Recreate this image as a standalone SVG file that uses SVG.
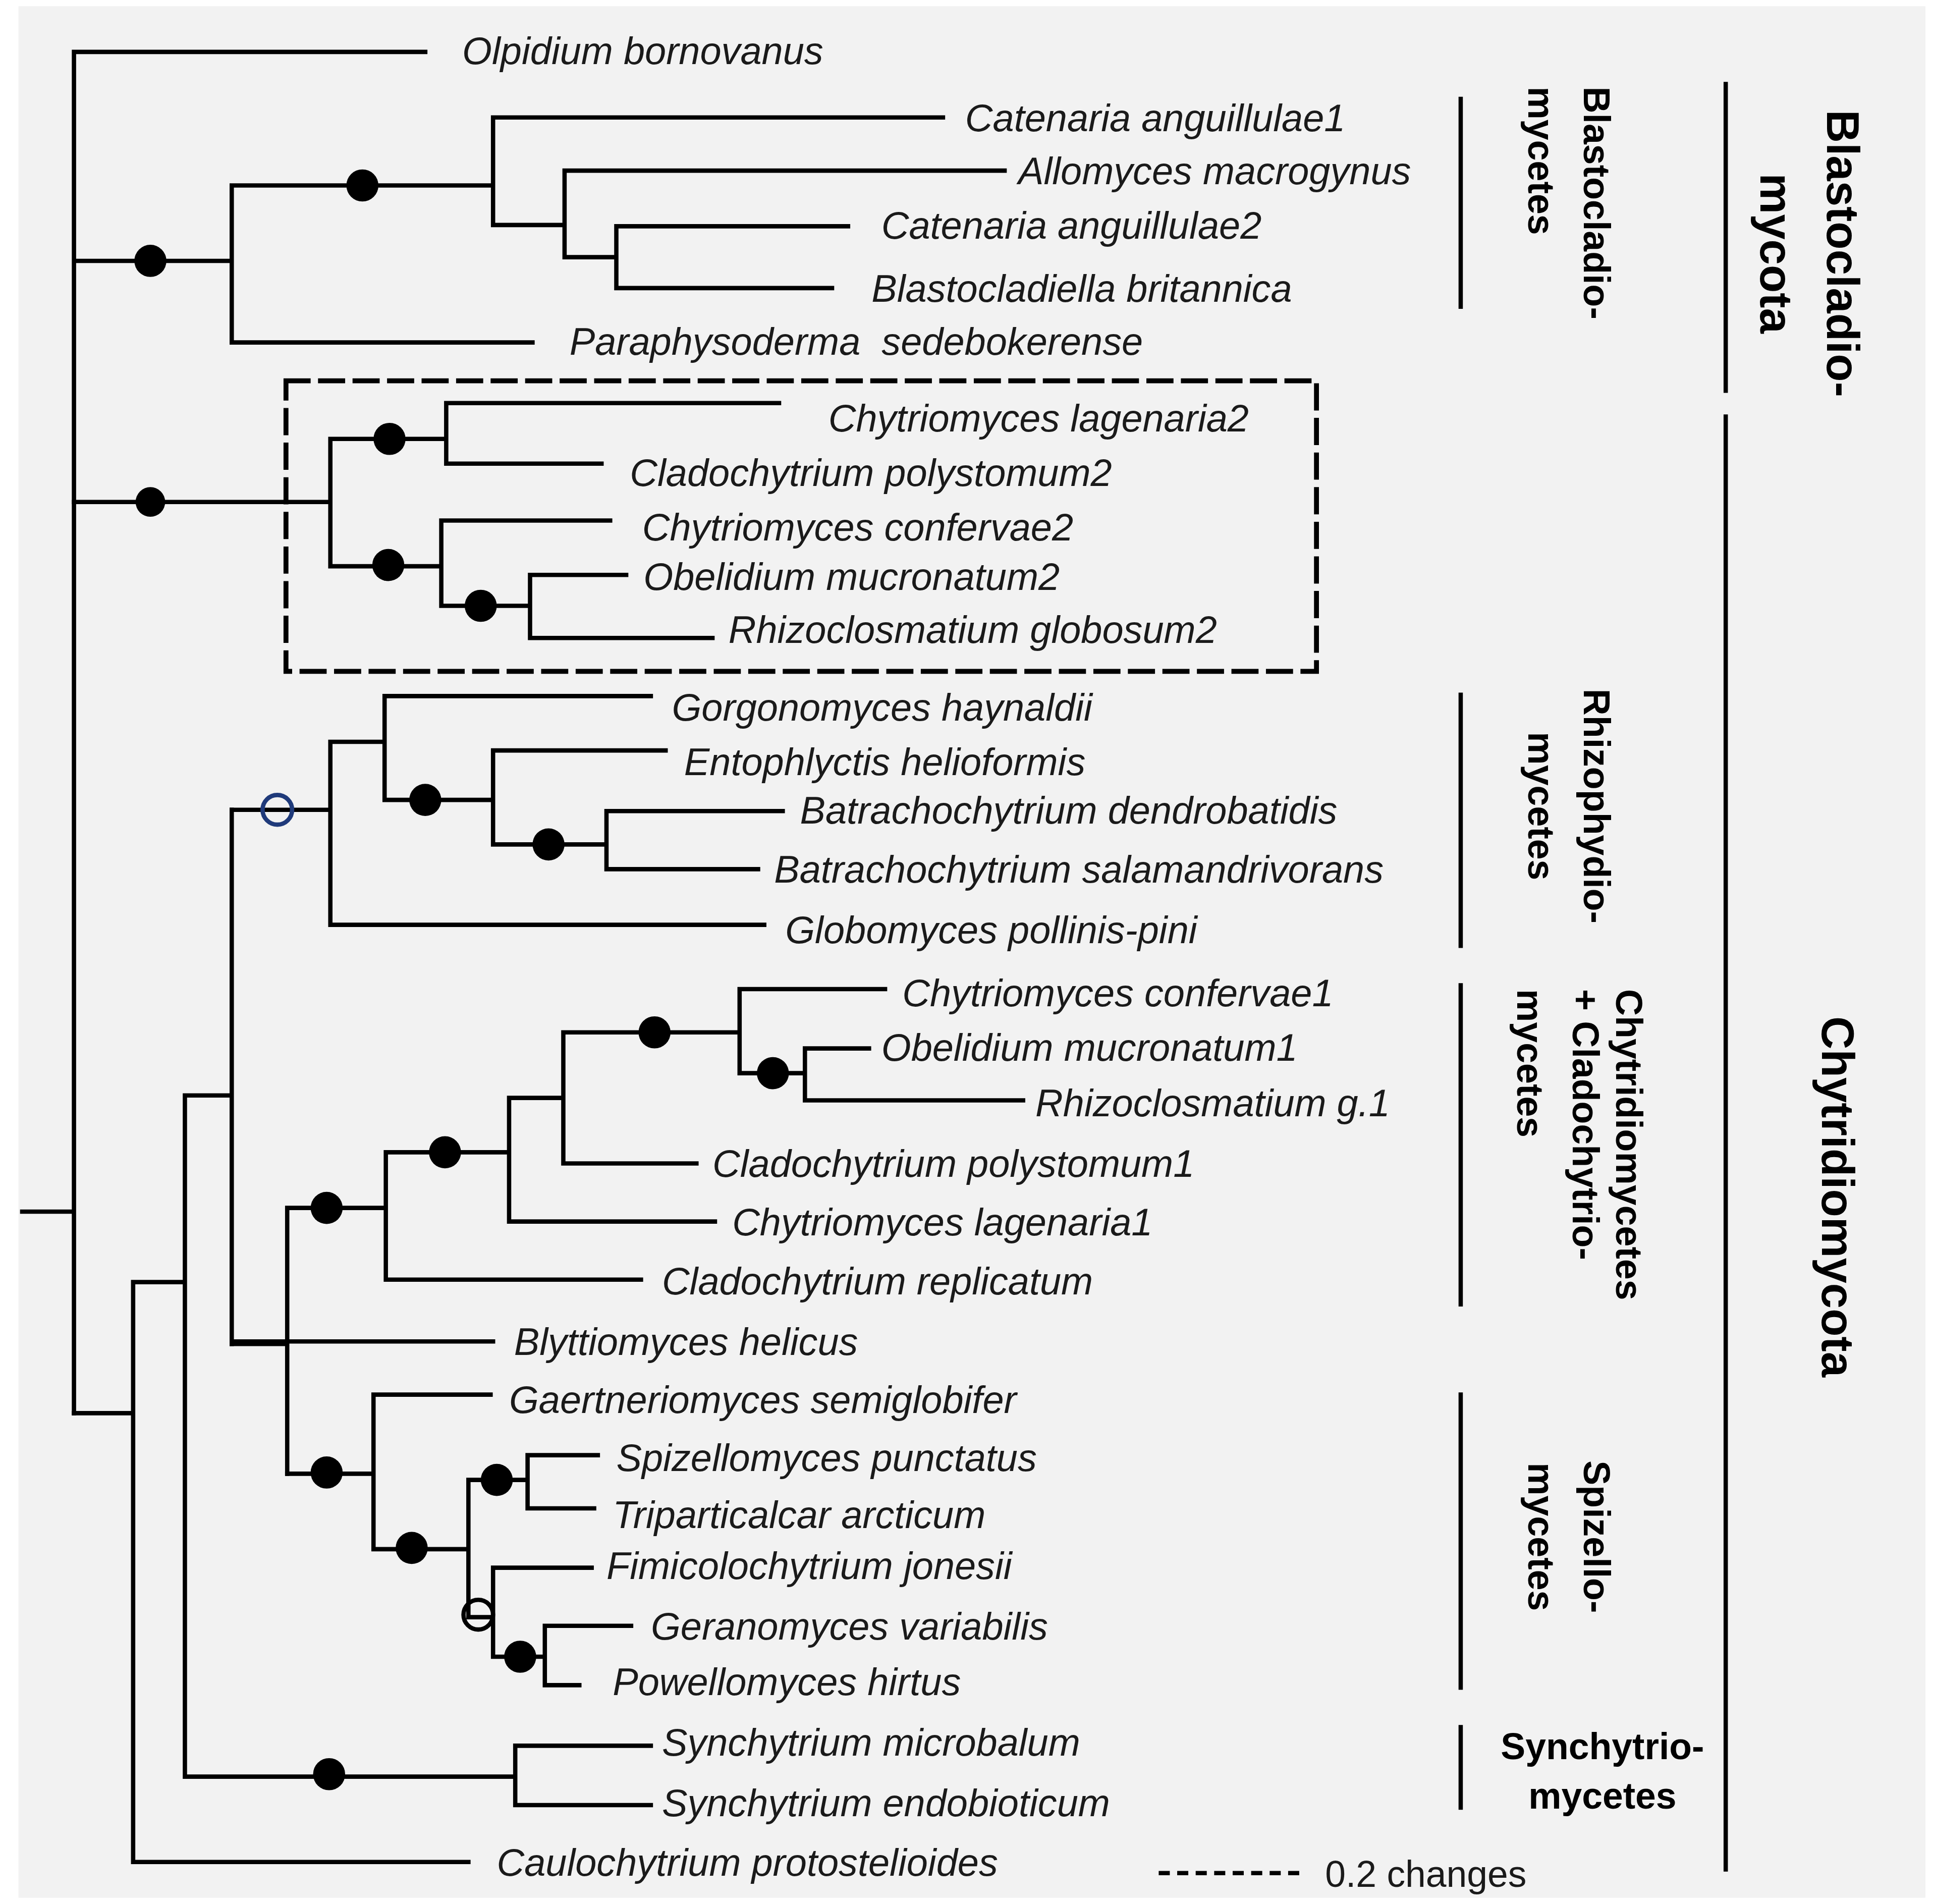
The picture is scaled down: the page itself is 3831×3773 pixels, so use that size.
<svg xmlns="http://www.w3.org/2000/svg" width="3831" height="3773" viewBox="0 0 3831 3773">
<style>
.l{stroke:#000;stroke-width:3.5;fill:none;stroke-linecap:square}
.t{font-family:"Liberation Sans",Arial,sans-serif;font-style:italic;font-size:31px;fill:#1a1a1a}
.c{font-family:"Liberation Sans",Arial,sans-serif;font-weight:bold;font-size:30px;fill:#000}
.p{font-family:"Liberation Sans",Arial,sans-serif;font-weight:bold;font-size:37px;fill:#000}
.d{fill:#000}
.o{fill:none;stroke-width:3.5}
</style>
<rect width="3831" height="3773" fill="#fff"/>
<g transform="scale(2.443,2.45)">
<rect x="15" y="5" width="1547" height="1530" fill="#f2f2f2"/>
<g id="connectors" class="l">
<path d="M18 980H60M60 42V1143M60 42H345M60 211H188M188 150V277M188 150H400M400 95V182M400 95H765M400 182H458M458 138V208M458 138H815M458 208H500M500 183V233M500 183H688M500 233H675M188 277H432"/>
<path d="M60 406H268M268 355V458M268 355H362M362 326V375M362 326H632M362 375H488M268 458H358M358 421V490M358 421H495M358 490H430M430 465V516M430 465H508M430 516H578"/>
<path d="M60 1143H108M108 1037V1506M108 1506H380M108 1037H150M150 886V1437M150 1437H418M418 1412V1460M418 1412H528M418 1460H528M150 886H188M188 655V1087"/>
<path d="M188 655H268M268 600V748M268 600H312M312 563V647M312 563H528M312 647H400M400 607V683M400 607H540M400 683H492M492 656V703M492 656H635M492 703H615M268 748H620"/>
<path d="M188 1087H233M233 977V1192M233 977H313M313 932V1035M313 932H413M413 888V988M413 888H457M457 835V941M457 835H600M600 800V868M600 800H718M600 868H653M653 848V890M653 848H705M653 890H830M457 941H565M413 988H580M313 1035H520M188 1085H400"/>
<path d="M233 1192H303M303 1128V1253M303 1128H398M303 1253H380M380 1197V1308M380 1197H428M428 1177V1220M428 1177H485M428 1220H482M380 1308H400M400 1268V1340M400 1268H480M400 1340H442M442 1315V1363M442 1315H512M442 1363H470"/>
<path d="M1185 80V248M1185 562V765M1185 797V1055M1185 1128V1365M1185 1397V1462M1400 68V316M1400 337V1512"/>
<rect x="232" y="308" width="836" height="235" stroke-dasharray="18,10" stroke-width="4"/>
<path d="M940 1515H1055" stroke-dasharray="9,6" stroke-linecap="butt"/>
</g>
<g id="dots">
<circle class="d" cx="122" cy="211" r="13"/><circle class="d" cx="294" cy="150" r="13"/>
<circle class="d" cx="122" cy="406" r="12"/><circle class="d" cx="316" cy="355" r="13"/>
<circle class="d" cx="315" cy="457" r="13"/><circle class="d" cx="390" cy="490" r="13"/>
<circle class="o" stroke="#1f3a7a" cx="225" cy="655" r="12"/>
<circle class="d" cx="345" cy="647" r="13"/><circle class="d" cx="445" cy="683" r="13"/>
<circle class="d" cx="265" cy="977" r="13"/><circle class="d" cx="361" cy="932" r="13"/>
<circle class="d" cx="531" cy="835" r="13"/><circle class="d" cx="627" cy="868" r="13"/>
<circle class="d" cx="265" cy="1191" r="13"/><circle class="d" cx="334" cy="1252" r="13"/>
<circle class="d" cx="403" cy="1197" r="13"/><circle class="o" stroke="#000" cx="388" cy="1306" r="12"/>
<circle class="d" cx="422" cy="1340" r="13"/><circle class="d" cx="267" cy="1435" r="13"/>
</g>
<g id="labels" class="t">
<text x="375" y="52">Olpidium bornovanus</text>
<text x="783" y="106">Catenaria anguillulae1</text>
<text x="826" y="149">Allomyces macrogynus</text>
<text x="715" y="193">Catenaria anguillulae2</text>
<text x="707" y="244">Blastocladiella britannica</text>
<text x="462" y="287" xml:space="preserve">Paraphysoderma  sedebokerense</text>
<text x="672" y="349">Chytriomyces lagenaria2</text>
<text x="511" y="393">Cladochytrium polystomum2</text>
<text x="521" y="437">Chytriomyces confervae2</text>
<text x="522" y="477">Obelidium mucronatum2</text>
<text x="591" y="520">Rhizoclosmatium globosum2</text>
<text x="545" y="583">Gorgonomyces haynaldii</text>
<text x="555" y="627">Entophlyctis helioformis</text>
<text x="649" y="666">Batrachochytrium dendrobatidis</text>
<text x="628" y="714">Batrachochytrium salamandrivorans</text>
<text x="637" y="763">Globomyces pollinis-pini</text>
<text x="732" y="814">Chytriomyces confervae1</text>
<text x="715" y="858">Obelidium mucronatum1</text>
<text x="840" y="903">Rhizoclosmatium g.1</text>
<text x="578" y="952">Cladochytrium polystomum1</text>
<text x="594" y="999">Chytriomyces lagenaria1</text>
<text x="537" y="1047">Cladochytrium replicatum</text>
<text x="417" y="1096">Blyttiomyces helicus</text>
<text x="413" y="1143">Gaertneriomyces semiglobifer</text>
<text x="500" y="1190">Spizellomyces punctatus</text>
<text x="497" y="1236">Triparticalcar arcticum</text>
<text x="492" y="1277">Fimicolochytrium jonesii</text>
<text x="528" y="1326">Geranomyces variabilis</text>
<text x="497" y="1371">Powellomyces hirtus</text>
<text x="537" y="1420">Synchytrium microbalum</text>
<text x="537" y="1469">Synchytrium endobioticum</text>
<text x="403" y="1517">Caulochytrium protostelioides</text>
</g>
<text x="1075" y="1526" style="font-family:'Liberation Sans',Arial,sans-serif;font-size:30px;fill:#1a1a1a">0.2 changes</text>
<g id="clades" class="c">
<text transform="translate(1285,70) rotate(90)">Blastocladio-</text>
<text transform="translate(1240,70) rotate(90)">mycetes</text>
<text text-anchor="middle" transform="translate(1285,652) rotate(90)">Rhizophydio-</text>
<text text-anchor="middle" transform="translate(1240,652) rotate(90)">mycetes</text>
<text transform="translate(1311,800) rotate(90)">Chytridiomycetes</text>
<text transform="translate(1276,800) rotate(90)">+ Cladochytrio-</text>
<text transform="translate(1231,800) rotate(90)">mycetes</text>
<text text-anchor="middle" transform="translate(1285,1243) rotate(90)">Spizello-</text>
<text text-anchor="middle" transform="translate(1240,1243) rotate(90)">mycetes</text>
<text x="1300" y="1423" text-anchor="middle">Synchytrio-</text>
<text x="1300" y="1463" text-anchor="middle">mycetes</text>
</g>
<g id="phyla" class="p">
<text text-anchor="middle" transform="translate(1482,205) rotate(90)">Blastocladio-</text>
<text text-anchor="middle" transform="translate(1428,205) rotate(90)">mycota</text>
<text text-anchor="middle" transform="translate(1478,968) rotate(90)">Chytridiomycota</text>
</g>
</g>
</svg>
